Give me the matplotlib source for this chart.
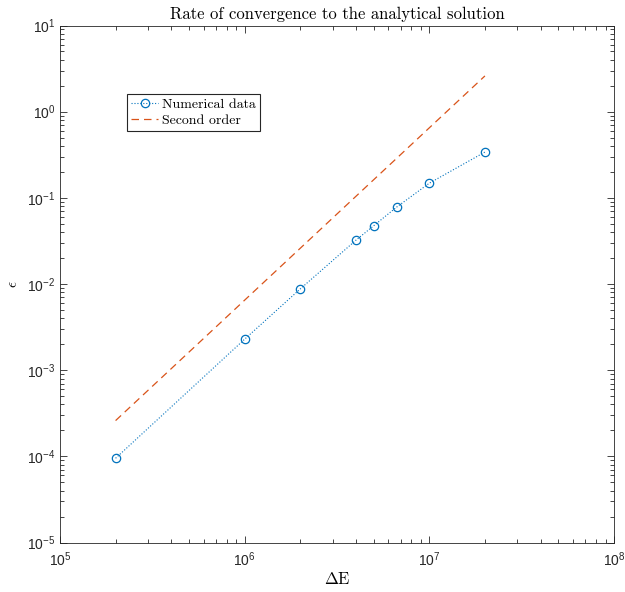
import matplotlib
matplotlib.use("Agg")
import matplotlib.pyplot as plt
from matplotlib.ticker import LogLocator, NullFormatter

# Data
delta_E = [2e5, 1e6, 2e6, 4e6, 5e6, 6.67e6, 1e7, 2e7]
error = [9.5e-5, 2.29e-3, 8.77e-3, 3.22e-2, 4.75e-2, 7.84e-2, 0.148, 0.340]
second_x = [2e5, 2e7]
second_y = [2.6e-4, 2.6]

title_text = "Rate of convergence to the analytical solution"
legend_labels = ["Numerical data", "Second order"]

plt.rcParams['font.family'] = ['Liberation Sans', 'DejaVu Sans']
plt.rcParams['mathtext.fontset'] = 'cm'

axc = '#262626'
fig = plt.figure(figsize=(6.25, 5.92), dpi=100)
ax = fig.add_axes([0.096, 0.0836, 0.8864, 0.8733])

ax.loglog(delta_E, error, linestyle=':', color='#0072BD', marker='o',
          markerfacecolor='none', markersize=6, linewidth=0.8,
          markeredgewidth=0.9, label=legend_labels[0])
ax.loglog(second_x, second_y, linestyle=(0, (6, 4)), color='#D95319',
          linewidth=0.9, label=legend_labels[1])

ax.set_xlim(1e5, 1e8)
ax.set_ylim(1e-5, 1e1)
ax.xaxis.set_major_locator(LogLocator(base=10, numticks=10))
ax.yaxis.set_major_locator(LogLocator(base=10, numticks=10))
ax.xaxis.set_minor_locator(LogLocator(base=10, subs=range(2, 10), numticks=20))
ax.yaxis.set_minor_locator(LogLocator(base=10, subs=range(2, 10), numticks=20))
ax.xaxis.set_minor_formatter(NullFormatter())
ax.yaxis.set_minor_formatter(NullFormatter())
ax.xaxis.get_offset_text().set_visible(False)
ax.yaxis.get_offset_text().set_visible(False)

ax.tick_params(which='both', direction='in', top=True, right=True,
               colors=axc, labelsize=10, width=0.6)
ax.tick_params(which='major', length=5)
ax.tick_params(which='minor', length=2.8)
ax.tick_params(axis='x', pad=6)
for sp in ax.spines.values():
    sp.set_color(axc)
    sp.set_linewidth(0.6)

ax.set_title(title_text, fontfamily='cmr10', fontsize=12, pad=5, color='#000000')
ax.set_xlabel(r'$\Delta\mathrm{E}$', fontsize=12, labelpad=1, color='#000000')
ax.set_ylabel(r'$\epsilon$', fontsize=11, labelpad=5, color='#000000')

leg = ax.legend(loc='upper left', bbox_to_anchor=(0.1215, 0.867),
                borderaxespad=0, fancybox=False, edgecolor=axc,
                framealpha=1, prop={'family': 'cmr10', 'size': 10},
                handlelength=1.9, handletextpad=0.3, borderpad=0.3,
                labelspacing=0.2)
leg.get_frame().set_linewidth(0.8)

fig.savefig('out.png', dpi=100)
